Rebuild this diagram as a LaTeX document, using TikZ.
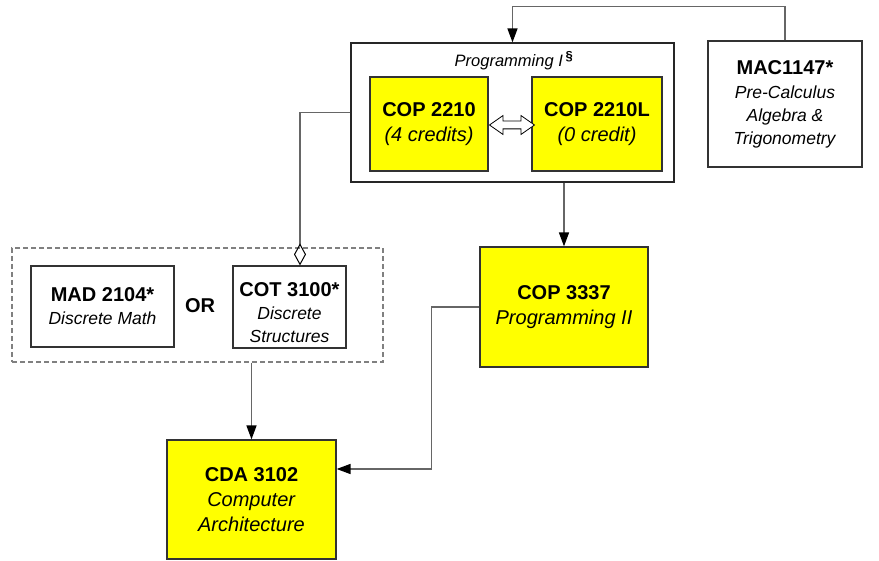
\documentclass[tikz,border=0pt]{standalone}
\usepackage{fontspec}
\setmainfont{Liberation Sans}
\usetikzlibrary{arrows.meta, calc, positioning, shapes.arrows}
\definecolor{courseYellow}{RGB}{255,255,0}
\tikzset{
    course/.style={rectangle, draw=black!80, line width=1.2pt, fill=courseYellow, align=center, inner sep=0pt, font=\fontsize{20}{25}\selectfont},
    prereq/.style={rectangle, draw=black!80, line width=1.2pt, fill=white, align=center, inner sep=0pt, font=\fontsize{17.5}{23}\selectfont},
    progGroup/.style={rectangle, draw=black!85, line width=1.2pt, inner sep=0pt},
    orGroup/.style={rectangle, draw=black!50, dash pattern=on 5pt off 3pt, line width=1.2pt, inner sep=0pt},
    link/.style={draw=black!60, line width=1.4pt, -{Triangle[length=14pt, width=10pt, color=black]}},
    aggLink/.style={draw=black!60, line width=1.4pt, -{Diamond[open, length=22pt, width=12pt, color=black, line width=1pt]}},
    coreq/.style={double arrow, draw=black, fill=white, line width=0.8pt, inner xsep=0pt, inner ysep=3.5pt, minimum height=45pt, double arrow head extend=5.5pt, double arrow tip angle=70},
}
\newcommand{\courseText}[2]{\textbf{#1}\\\textit{#2}}

\begin{document}
\begin{tikzpicture}[x=1pt, y=-1pt]
    \useasboundingbox (0,0) rectangle (879,561);

    % programming I group
    \node[progGroup, minimum width=323pt, minimum height=139pt] (progI) at (512.5, 112.5) {};
    \node[font=\fontsize{16.5}{20}\selectfont] (progTitle) at (514, 61)
        {\textit{Programming I}\,\textsuperscript{\fontsize{13}{13}\selectfont\bfseries\S}};
    \node[course, minimum width=118pt, minimum height=94pt] (cop2210) at (429, 124) {\courseText{COP 2210}{(4 credits)}};
    \node[course, minimum width=130pt, minimum height=94pt] (cop2210l) at (597, 124) {\courseText{COP 2210L}{(0 credit)}};
    \node[coreq] (coreqArrow) at ($(cop2210.east)!0.5!(cop2210l.west)+(2,1)$) {};

    % math prerequisite
    \node[prereq, minimum width=154pt, minimum height=126pt] (mac1147) at (785, 104)
        {{\fontsize{20}{24}\selectfont\bfseries MAC1147*}\\[1pt]\textit{Pre-Calculus}\\\textit{Algebra \&}\\\textit{Trigonometry}};

    % discrete math choice
    \node[orGroup, minimum width=371pt, minimum height=114pt] (discrete) at (197.5, 305) {};
    \node[prereq, minimum width=143pt, minimum height=81pt] (mad2104) at (102.5, 306.5)
        {{\fontsize{20}{22}\selectfont\bfseries MAD 2104*}\\\textit{Discrete Math}};
    \node[font=\fontsize{20}{24}\selectfont\bfseries] (orText) at (200, 306) {OR};
    \node[prereq, minimum width=113pt, minimum height=82pt] (cot3100) at (289.5, 307)
        {{\fontsize{20}{24}\selectfont\bfseries\rule{0pt}{26pt}COT 3100*}\\\textit{Discrete}\\\textit{Structures}};

    % later courses
    \node[course, minimum width=168pt, minimum height=120pt] (cop3337) at (564, 307) {\courseText{COP 3337}{Programming II}};
    \node[course, minimum width=169pt, minimum height=119pt] (cda3102) at (251.5, 499.5) {\textbf{CDA 3102}\\\textit{Computer}\\\textit{Architecture}};

    % connectors
    \draw[link] (mac1147.north) -- ++(0, -34) -| (progI.north);
    \draw[aggLink] (progI.west) -| ([xshift=10.5pt]cot3100.north);
    \draw[link] (progI.south -| cop3337.north) -- (cop3337.north);
    \draw[link] (discrete.south -| cda3102.north) -- (cda3102.north);
    \draw[link] (cop3337.west) -- ++(-48, 0) |- ([yshift=30.5pt]cda3102.east);

\end{tikzpicture}
\end{document}
